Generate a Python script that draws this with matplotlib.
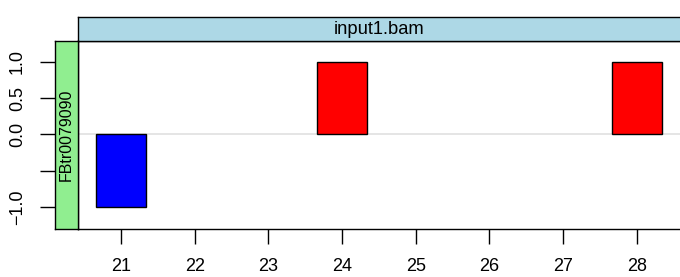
import matplotlib
matplotlib.use("Agg")
import matplotlib.pyplot as plt

plt.rcParams["font.family"] = ["Liberation Sans", "DejaVu Sans"]

positions = [21, 24, 28]
values = [-1.0, 1.0, 1.0]
x_ticks = [21, 22, 23, 24, 25, 26, 27, 28]
y_ticks = [-1.0, -0.5, 0.0, 0.5, 1.0]
y_labels = ["\u22121.0", "", "0.0", "0.5", "1.0"]
sample = "input1.bam"
transcript = "FBtr0079090"

W, H = 680, 277
fig = plt.figure(figsize=(W / 100, H / 100), dpi=100)

def box(x0, y0, x1, y1):
    # pixel box (top-left origin) -> figure fraction
    return [x0 / W, (H - y1) / H, (x1 - x0) / W, (y1 - y0) / H]

ax = fig.add_axes(box(78, 41, 684, 229))
top = fig.add_axes(box(78, 17, 684, 41))
side = fig.add_axes(box(55, 41, 78, 229))

ylim = (-1.303, 1.285)
xlim = (20.416, 28.64)

ax.axhline(0, color="#e3e3e3", lw=1.3, zorder=0)
colors = ["blue" if v < 0 else "red" for v in values]
ax.bar(positions, values, width=0.67, color=colors, edgecolor="black", linewidth=1.0)
ax.set_xlim(*xlim)
ax.set_ylim(*ylim)
ax.set_xticks(x_ticks)
ax.set_xticklabels([str(t) for t in x_ticks], fontsize=13)
ax.tick_params(axis="x", length=10.5, width=1.0, pad=10.5, color="black")
ax.set_yticks([])
for s in ax.spines.values():
    s.set_linewidth(1.0)

top.set_facecolor("#add8e6")
top.set_xticks([])
top.set_yticks([])
for s in top.spines.values():
    s.set_linewidth(1.0)
# strip runs past the right edge, so centre the label on the visible part
top.text((379 - 78) / (684 - 78), 0.5, sample, transform=top.transAxes,
         ha="center", va="center", fontsize=13.2)

side.set_facecolor("#90ee90")
side.set_xticks([])
side.set_ylim(*ylim)
side.set_yticks(y_ticks)
side.set_yticklabels(y_labels, rotation=90, va="center", fontsize=13)
side.tick_params(axis="y", length=11, width=1.0, pad=10)
for s in side.spines.values():
    s.set_linewidth(1.0)
side.text(0.5, 0.5, transcript, transform=side.transAxes, rotation=90,
          ha="center", va="center", fontsize=11.5)

fig.savefig("out.png", dpi=100)
